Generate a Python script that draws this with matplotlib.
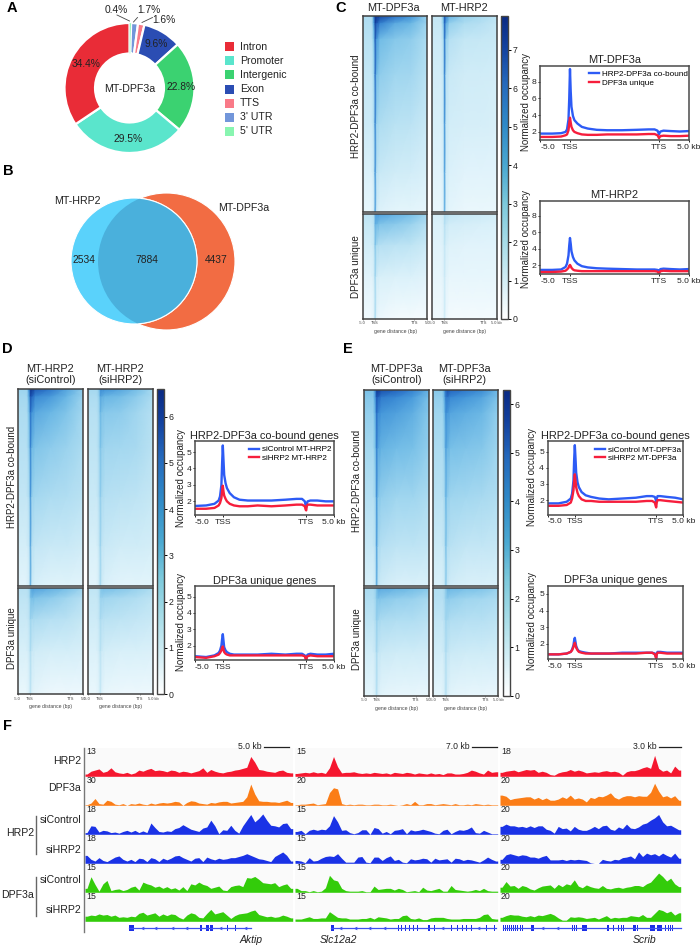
# plot.py - multi panel figure: annotation donut, venn, heatmaps, profiles, tracks

import matplotlib
matplotlib.use("Agg")
import matplotlib.pyplot as plt
import numpy as np
from matplotlib.colors import LinearSegmentedColormap
from matplotlib.patches import Circle, Rectangle

W, H = 700, 947
plt.rcParams["font.family"] = ["Liberation Sans", "DejaVu Sans"]
TEXT = "#222222"

# panel A
PIE_LABELS = ["5' UTR", "3' UTR", "TTS", "Exon", "Intergenic", "Promoter", "Intron"]
PIE_VALUES = [0.4, 1.7, 1.6, 9.6, 22.8, 29.5, 34.4]
PIE_COLORS = ["#88F5B0", "#7296DA", "#F97A88", "#2B4DB3", "#3BD271", "#5AE5CC", "#E92C37"]
LEGEND_ORDER = ["Intron", "Promoter", "Intergenic", "Exon", "TTS", "3' UTR", "5' UTR"]

# panel B
VENN_ONLY_HRP2 = 2534
VENN_BOTH = 7884
VENN_ONLY_DPF3A = 4437

# heatmaps: coarse grid, columns are fractions of the width
HEAT_COLS = [0, 0.14, 0.175, 0.195, 0.22, 0.27, 0.5, 0.75, 1]
HEAT_ROWS_TOP = [0, 0.04, 0.12, 0.3, 0.55, 0.8, 1]
HEAT_ROWS_LOW = [0, 0.1, 0.3, 0.6, 1]

C_DPF3A_TOP = [[2.6, 2.6, 5.5, 7.6, 7.6, 7.0, 6.0, 5.0, 3.2],
               [2.5, 2.5, 4.6, 7.0, 6.4, 5.4, 4.4, 4.0, 3.0],
               [2.3, 2.3, 3.6, 6.4, 4.8, 3.9, 3.5, 3.3, 2.6],
               [2.0, 2.0, 3.0, 6.0, 3.8, 3.3, 3.0, 2.9, 2.3],
               [1.7, 1.7, 2.5, 5.4, 3.0, 2.6, 2.3, 2.2, 1.8],
               [1.2, 1.2, 1.9, 5.0, 2.2, 1.8, 1.6, 1.5, 1.3],
               [0.8, 0.8, 1.4, 4.6, 1.5, 1.1, 0.9, 0.9, 0.8]]
C_HRP2_TOP = [[2.0, 2.0, 4.0, 6.5, 5.5, 4.2, 3.2, 2.8, 2.2],
              [1.9, 1.9, 3.4, 6.2, 4.4, 3.2, 2.6, 2.4, 2.0],
              [1.7, 1.7, 2.6, 5.8, 3.2, 2.4, 2.0, 1.9, 1.8],
              [1.5, 1.5, 2.1, 5.4, 2.3, 1.8, 1.6, 1.6, 1.5],
              [1.3, 1.3, 1.8, 5.0, 1.9, 1.5, 1.4, 1.4, 1.3],
              [1.0, 1.0, 1.5, 4.6, 1.5, 1.2, 1.0, 1.0, 1.0],
              [0.7, 0.7, 1.2, 4.2, 1.2, 0.9, 0.7, 0.7, 0.7]]
C_DPF3A_LOW = [[2.2, 2.2, 2.6, 4.6, 4.8, 4.6, 4.2, 3.8, 3.0],
               [1.9, 1.9, 2.3, 4.2, 4.0, 3.6, 3.4, 3.1, 2.4],
               [1.5, 1.5, 1.9, 3.6, 2.6, 2.4, 2.2, 2.1, 1.7],
               [1.0, 1.0, 1.4, 3.0, 1.5, 1.3, 1.2, 1.2, 1.0],
               [0.5, 0.5, 0.9, 2.6, 0.8, 0.6, 0.4, 0.4, 0.4]]
C_HRP2_LOW = [[1.4, 1.4, 1.6, 2.6, 2.4, 2.1, 1.8, 1.7, 1.5],
              [1.2, 1.2, 1.4, 2.4, 1.8, 1.5, 1.4, 1.3, 1.2],
              [1.0, 1.0, 1.2, 2.0, 1.3, 1.1, 1.0, 1.0, 1.0],
              [0.8, 0.8, 1.0, 1.7, 1.0, 0.8, 0.8, 0.8, 0.8],
              [0.5, 0.5, 0.7, 1.6, 0.6, 0.4, 0.4, 0.4, 0.4]]

D_CTRL_TOP = [[2.6, 2.6, 4.4, 6.2, 6.2, 5.4, 4.8, 3.8, 2.8],
              [2.4, 2.4, 3.8, 5.6, 5.2, 4.4, 4.0, 3.4, 2.6],
              [2.2, 2.2, 3.2, 5.0, 4.2, 3.7, 3.4, 3.0, 2.4],
              [2.0, 2.0, 2.8, 4.6, 3.3, 3.0, 2.8, 2.6, 2.2],
              [1.7, 1.7, 2.2, 4.2, 2.6, 2.4, 2.2, 2.1, 1.9],
              [1.2, 1.2, 1.7, 3.8, 1.9, 1.7, 1.5, 1.5, 1.3],
              [0.8, 0.8, 1.3, 3.6, 1.4, 1.1, 0.9, 0.9, 0.8]]
D_SI_TOP = [[2.4, 2.4, 3.0, 4.4, 4.4, 4.2, 3.8, 3.2, 2.4],
            [2.2, 2.2, 2.7, 3.8, 3.6, 3.4, 3.2, 2.8, 2.2],
            [2.0, 2.0, 2.5, 3.4, 3.0, 2.9, 2.8, 2.5, 2.0],
            [1.8, 1.8, 2.3, 3.1, 2.7, 2.5, 2.4, 2.3, 1.9],
            [1.5, 1.5, 2.0, 2.8, 2.2, 2.0, 1.9, 1.8, 1.6],
            [1.1, 1.1, 1.6, 2.6, 1.7, 1.5, 1.3, 1.3, 1.2],
            [0.8, 0.8, 1.3, 2.4, 1.3, 1.0, 0.8, 0.8, 0.8]]
D_CTRL_LOW = [[2.0, 2.0, 2.4, 3.4, 4.0, 3.9, 3.6, 3.2, 2.6],
              [1.8, 1.8, 2.1, 3.0, 3.2, 3.0, 2.8, 2.5, 2.0],
              [1.5, 1.5, 1.8, 2.6, 2.3, 2.2, 2.0, 1.9, 1.6],
              [1.1, 1.1, 1.4, 2.2, 1.5, 1.3, 1.2, 1.2, 1.1],
              [0.6, 0.6, 1.0, 1.8, 0.9, 0.7, 0.5, 0.5, 0.5]]
D_SI_LOW = [[1.8, 1.8, 2.1, 2.9, 3.2, 3.2, 3.0, 2.7, 2.2],
            [1.6, 1.6, 1.9, 2.6, 2.6, 2.5, 2.3, 2.1, 1.8],
            [1.4, 1.4, 1.7, 2.3, 2.0, 1.9, 1.8, 1.7, 1.5],
            [1.0, 1.0, 1.3, 1.9, 1.4, 1.2, 1.1, 1.1, 1.0],
            [0.6, 0.6, 0.9, 1.6, 0.8, 0.6, 0.5, 0.5, 0.5]]

E_CTRL_TOP = [[3.0, 3.0, 4.4, 5.8, 6.0, 5.4, 5.0, 4.4, 3.4],
              [2.8, 2.8, 3.9, 5.2, 5.0, 4.5, 4.2, 3.8, 3.0],
              [2.6, 2.6, 3.4, 4.8, 4.2, 3.9, 3.7, 3.4, 2.8],
              [2.3, 2.3, 3.0, 4.4, 3.6, 3.3, 3.1, 3.0, 2.6],
              [1.9, 1.9, 2.4, 4.0, 2.8, 2.6, 2.4, 2.4, 2.1],
              [1.5, 1.5, 1.9, 3.7, 2.2, 1.9, 1.7, 1.7, 1.6],
              [1.0, 1.0, 1.5, 3.4, 1.6, 1.3, 1.0, 1.0, 1.0]]
E_SI_TOP = [[2.8, 2.8, 3.9, 5.0, 5.4, 5.0, 4.6, 4.2, 3.2],
            [2.6, 2.6, 3.5, 4.5, 4.6, 4.2, 3.9, 3.6, 2.9],
            [2.4, 2.4, 3.1, 4.1, 3.9, 3.6, 3.4, 3.2, 2.6],
            [2.1, 2.1, 2.7, 3.7, 3.3, 3.0, 2.9, 2.8, 2.4],
            [1.8, 1.8, 2.2, 3.2, 2.6, 2.4, 2.3, 2.2, 2.0],
            [1.4, 1.4, 1.8, 2.9, 2.0, 1.8, 1.6, 1.6, 1.5],
            [1.0, 1.0, 1.4, 2.6, 1.5, 1.2, 1.0, 1.0, 1.0]]
E_CTRL_LOW = [[2.2, 2.2, 2.5, 3.0, 3.6, 3.5, 3.3, 3.1, 2.8],
              [2.0, 2.0, 2.3, 2.8, 2.9, 2.8, 2.6, 2.5, 2.2],
              [1.7, 1.7, 2.0, 2.6, 2.3, 2.1, 2.0, 2.0, 1.8],
              [1.2, 1.2, 1.5, 2.2, 1.6, 1.4, 1.3, 1.3, 1.2],
              [0.7, 0.7, 1.1, 1.9, 1.0, 0.7, 0.6, 0.6, 0.6]]
E_SI_LOW = [[2.0, 2.0, 2.3, 2.8, 3.3, 3.2, 3.0, 2.9, 2.5],
            [1.9, 1.9, 2.2, 2.6, 2.7, 2.6, 2.4, 2.3, 2.1],
            [1.6, 1.6, 1.9, 2.4, 2.2, 2.0, 1.9, 1.9, 1.7],
            [1.2, 1.2, 1.5, 2.0, 1.6, 1.4, 1.3, 1.3, 1.2],
            [0.7, 0.7, 1.1, 1.8, 1.0, 0.7, 0.6, 0.6, 0.6]]

# profile curves, x is percent of the axis (TSS at 20, TTS at 80)
PROF_X = [0, 8, 14, 17, 18, 19, 19.5, 20, 20.5, 21, 22, 23, 25, 28, 32, 38, 45, 55, 65, 73, 77,
          79, 79.6, 80, 80.4, 81, 83, 88, 94, 100]
C1_BLUE = [1.8, 1.8, 1.85, 2.0, 2.3, 3.5, 6.0, 9.5, 6.8, 5.0, 3.9, 3.4, 3.0, 2.6, 2.4, 2.25, 2.2, 2.2, 2.25, 2.3,
           2.3, 2.15, 1.9, 1.7, 1.9, 2.05, 2.15, 2.1, 2.05, 2.1]
C1_RED = [1.4, 1.4, 1.45, 1.6, 1.7, 2.2, 3.0, 3.7, 3.1, 2.6, 2.2, 2.0, 1.85, 1.7, 1.65, 1.65, 1.7, 1.7, 1.7, 1.75,
          1.75, 1.6, 1.4, 1.25, 1.4, 1.5, 1.55, 1.5, 1.5, 1.55]
C2_BLUE = [1.45, 1.45, 1.5, 1.8, 2.2, 3.2, 4.4, 5.3, 4.6, 3.7, 3.0, 2.6, 2.2, 1.9, 1.75, 1.65, 1.6, 1.55, 1.5, 1.5,
           1.5, 1.45, 1.3, 1.15, 1.45, 1.55, 1.6, 1.55, 1.5, 1.55]
C2_RED = [1.2, 1.2, 1.25, 1.35, 1.5, 1.7, 1.95, 2.05, 1.9, 1.7, 1.5, 1.4, 1.35, 1.3, 1.3, 1.3, 1.3, 1.3, 1.3, 1.3,
          1.3, 1.25, 1.1, 1.0, 1.2, 1.3, 1.35, 1.3, 1.3, 1.3]
D1_BLUE = [1.72, 1.75, 1.85, 2.05, 2.3, 3.0, 4.3, 5.4, 4.5, 3.6, 3.1, 2.8, 2.5, 2.25, 2.1, 2.05, 2.05, 2.05, 2.1,
           2.15, 2.15, 2.0, 1.75, 1.65, 1.85, 2.0, 2.05, 2.05, 2.0, 2.0]
D1_RED = [1.55, 1.55, 1.6, 1.75, 1.9, 2.2, 2.6, 2.95, 2.6, 2.35, 2.15, 2.0, 1.85, 1.75, 1.7, 1.7, 1.75, 1.7, 1.75,
          1.8, 1.8, 1.7, 1.5, 1.45, 1.7, 1.8, 1.8, 1.75, 1.75, 1.75]
D2_BLUE = [1.35, 1.3, 1.4, 1.55, 1.7, 2.0, 2.4, 2.7, 2.3, 1.9, 1.7, 1.6, 1.5, 1.45, 1.45, 1.45, 1.45, 1.5, 1.45, 1.5,
           1.5, 1.4, 1.25, 1.15, 1.35, 1.45, 1.5, 1.45, 1.45, 1.5]
D2_RED = [1.3, 1.25, 1.35, 1.45, 1.55, 1.7, 1.85, 1.95, 1.75, 1.6, 1.5, 1.45, 1.4, 1.4, 1.4, 1.4, 1.4, 1.4, 1.4, 1.4,
          1.4, 1.35, 1.2, 1.1, 1.3, 1.35, 1.4, 1.35, 1.35, 1.35]
E1_BLUE = [1.8, 1.8, 1.9, 2.1, 2.4, 3.2, 4.5, 5.4, 4.6, 3.7, 3.1, 2.8, 2.5, 2.3, 2.2, 2.1, 2.05, 2.1, 2.15, 2.25,
           2.25, 2.2, 2.05, 1.9, 2.1, 2.25, 2.25, 2.2, 2.15, 2.05]
E1_RED = [1.65, 1.65, 1.7, 1.85, 2.1, 2.6, 3.2, 3.6, 3.2, 2.8, 2.45, 2.25, 2.05, 1.95, 1.95, 1.9, 1.9, 1.9, 1.9,
          1.95, 1.95, 1.85, 1.65, 1.55, 1.85, 2.0, 2.0, 1.95, 1.9, 1.85]
E2_BLUE = [1.35, 1.35, 1.4, 1.5, 1.65, 1.9, 2.2, 2.35, 2.1, 1.85, 1.65, 1.55, 1.5, 1.45, 1.4, 1.4, 1.4, 1.45, 1.45,
           1.45, 1.45, 1.4, 1.25, 1.15, 1.4, 1.5, 1.5, 1.45, 1.45, 1.45]
E2_RED = [1.35, 1.35, 1.4, 1.5, 1.6, 1.8, 1.95, 2.05, 1.9, 1.75, 1.6, 1.5, 1.45, 1.4, 1.4, 1.4, 1.4, 1.4, 1.4, 1.45,
          1.45, 1.35, 1.2, 1.1, 1.35, 1.45, 1.45, 1.4, 1.4, 1.4]

# panel F signal, height in percent of one track
AKTIP_TRACKS = [
    [8, 18, 22, 26, 14, 18, 30, 16, 12, 10, 14, 8, 12, 22, 18, 24, 28, 20, 22, 20, 16, 22, 20, 14, 18, 16, 12, 16,
     20, 30, 14, 24, 18, 14, 12, 16, 18, 22, 24, 28, 32, 70, 50, 24, 22, 18, 16, 14, 20, 22, 14, 12],
    [2, 8, 24, 6, 4, 18, 14, 4, 2, 6, 0, 6, 4, 8, 4, 2, 8, 4, 8, 10, 8, 10, 14, 12, 0, 10, 16, 14, 8, 6, 4, 10, 8,
     12, 14, 14, 8, 10, 12, 14, 30, 75, 40, 16, 14, 14, 12, 12, 10, 14, 18, 10],
    [6, 30, 28, 8, 14, 12, 6, 8, 4, 10, 14, 8, 14, 6, 12, 6, 40, 24, 10, 8, 12, 10, 20, 24, 34, 26, 18, 14, 10, 22,
     26, 50, 30, 2, 16, 14, 32, 14, 4, 30, 50, 70, 44, 56, 72, 50, 32, 30, 26, 38, 40, 20],
    [28, 14, 8, 20, 10, 6, 14, 22, 26, 14, 8, 14, 6, 18, 16, 6, 20, 16, 6, 18, 12, 18, 26, 28, 20, 14, 8, 18, 20, 6,
     22, 16, 12, 18, 14, 16, 20, 20, 24, 28, 34, 28, 22, 16, 14, 10, 6, 24, 32, 40, 28, 8],
    [14, 55, 28, 4, 30, 42, 6, 10, 12, 6, 10, 18, 22, 8, 36, 30, 26, 18, 22, 14, 20, 12, 16, 8, 20, 6, 30, 26, 36, 28,
     24, 14, 18, 22, 8, 6, 20, 24, 26, 20, 52, 50, 56, 46, 34, 32, 30, 34, 20, 26, 30, 14],
    [18, 22, 20, 26, 22, 24, 18, 22, 14, 16, 14, 18, 16, 28, 32, 22, 26, 30, 18, 26, 20, 26, 24, 14, 8, 22, 30, 26,
     14, 12, 28, 42, 26, 30, 34, 22, 10, 20, 26, 28, 30, 36, 40, 24, 20, 16, 18, 14, 16, 22, 18, 12],
]
SLC_TRACKS = [
    [10, 12, 14, 12, 16, 12, 14, 10, 30, 70, 34, 12, 14, 14, 16, 12, 10, 12, 10, 14, 12, 10, 12, 8, 14, 12, 10, 14,
     12, 8, 12, 10, 8, 12, 8, 10, 6, 12, 12, 8, 8, 10, 14, 22, 18, 12, 8, 22, 14, 16],
    [2, 4, 4, 6, 8, 2, 4, 6, 45, 62, 58, 6, 2, 4, 2, 4, 4, 2, 2, 4, 4, 2, 2, 4, 2, 0, 2, 6, 2, 14, 2, 2, 6, 6, 2, 4,
     6, 4, 2, 6, 2, 2, 4, 2, 6, 4, 2, 4, 2, 2],
    [10, 14, 2, 14, 18, 14, 18, 16, 30, 66, 44, 14, 16, 6, 2, 6, 16, 16, 0, 24, 20, 4, 10, 2, 14, 16, 20, 2, 16, 12,
     14, 18, 14, 10, 4, 2, 14, 18, 2, 10, 16, 14, 18, 26, 6, 4, 14, 8, 2, 2],
    [10, 8, 2, 20, 8, 10, 18, 24, 26, 24, 34, 18, 4, 4, 4, 22, 24, 4, 2, 22, 22, 10, 20, 26, 10, 14, 4, 2, 16, 12,
     14, 18, 16, 4, 18, 12, 14, 16, 4, 18, 16, 10, 14, 12, 8, 4, 12, 22, 14, 8],
    [14, 6, 6, 2, 6, 2, 4, 16, 60, 44, 40, 14, 6, 4, 4, 4, 6, 2, 2, 22, 10, 12, 14, 14, 8, 14, 10, 2, 4, 6, 2, 18, 8,
     6, 10, 14, 4, 4, 24, 10, 8, 6, 4, 6, 10, 6, 14, 6, 4, 4],
    [8, 8, 12, 16, 10, 10, 12, 12, 34, 24, 14, 12, 12, 8, 8, 8, 10, 10, 14, 8, 16, 14, 12, 8, 10, 10, 20, 22, 10, 8,
     12, 6, 6, 12, 14, 14, 14, 10, 8, 8, 8, 10, 10, 10, 10, 14, 24, 26, 10, 8],
]
SCRIB_TRACKS = [
    [14, 18, 20, 22, 16, 20, 24, 22, 24, 14, 18, 14, 6, 4, 12, 16, 18, 24, 18, 22, 18, 12, 14, 16, 14, 18, 20, 16, 18,
     14, 4, 16, 20, 20, 24, 30, 34, 28, 74, 28, 18, 22, 12, 36, 22],
    [36, 32, 20, 24, 26, 28, 30, 30, 22, 28, 20, 26, 18, 18, 22, 30, 24, 36, 22, 26, 22, 12, 28, 24, 32, 30, 36, 44,
     28, 22, 30, 34, 34, 30, 34, 32, 32, 46, 78, 50, 30, 34, 26, 34, 18],
    [28, 36, 30, 30, 26, 28, 24, 30, 24, 30, 30, 18, 14, 4, 28, 20, 22, 12, 28, 18, 14, 14, 20, 28, 20, 30, 32, 18,
     14, 26, 20, 36, 22, 20, 26, 36, 40, 50, 58, 70, 44, 30, 32, 24, 16],
    [14, 30, 34, 30, 26, 30, 28, 22, 22, 18, 24, 28, 12, 12, 12, 14, 10, 14, 12, 14, 12, 10, 2, 0, 0, 14, 10, 8, 14,
     12, 20, 22, 26, 16, 40, 24, 36, 30, 34, 26, 36, 28, 22, 36, 18],
    [18, 38, 22, 24, 14, 24, 20, 12, 8, 16, 22, 24, 26, 14, 28, 20, 30, 26, 44, 22, 16, 26, 20, 16, 14, 24, 14, 12,
     16, 18, 14, 18, 20, 24, 24, 20, 30, 36, 52, 68, 56, 40, 50, 30, 20],
    [14, 20, 24, 22, 22, 18, 16, 20, 16, 22, 20, 24, 28, 22, 12, 4, 4, 16, 14, 16, 14, 10, 12, 14, 8, 14, 20, 10, 14,
     12, 14, 14, 20, 18, 16, 24, 14, 14, 28, 42, 38, 30, 36, 22, 30],
]
TRACK_COLORS = ["#F5172F", "#FB7D17", "#1A32E6", "#1A32E6", "#33CC0A", "#33CC0A"]
AKTIP_MAX = ["13", "30", "18", "18", "15", "15"]
SLC_MAX = ["15", "20", "15", "15", "15", "15"]
SCRIB_MAX = ["18", "20", "20", "20", "20", "20"]

# gene models in figure pixels: (line start, line end), exons, arrows
AKTIP_SPAN = (128.5, 250.5)
AKTIP_EXONS = [(128.5, 133.5), (200, 201.5), (206, 208.5), (210, 212.5), (226.5, 228), (234.5, 235.5)]
AKTIP_ARROWS = [141.5, 155, 171.5, 186, 220, 245]
SLC_SPAN = (330.5, 496)
SLC_EXONS = [(330.5, 334), (397.5, 398.5), (401, 402), (404.5, 405.5), (408.5, 409.5), (412.5, 413.5),
             (417, 418), (427.5, 429.5), (434, 435), (451, 452), (457, 458), (461.5, 462.5), (466, 467),
             (471, 472), (486, 487), (493.5, 494.5)]
SLC_ARROWS = [340, 355, 369, 384, 442, 478]
SCRIB_SPAN = (502.5, 681)
SCRIB_EXONS = [(502.5, 504), (504.8, 506), (506.8, 508), (508.8, 510), (511, 512), (513, 514), (515, 516), (517, 518),
               (519.5, 520.5), (522, 523), (530.5, 534), (571.5, 573), (573.5, 575), (575.5, 576.5), (581.5, 587),
               (592.5, 593.3), (596.5, 597.3), (600.5, 601.3), (606.5, 608.5), (612.5, 613.5), (618, 619),
               (620.5, 621.5), (623, 624), (633, 636), (636.5, 638), (649.5, 654.5), (656.5, 662), (665, 666),
               (667.5, 668.5), (669.5, 670.5), (672, 673)]
SCRIB_ARROWS = [541.5, 556.5]


def ax_px(fig, x0, y0, x1, y1):
    return fig.add_axes([x0 / W, 1 - y1 / H, (x1 - x0) / W, (y1 - y0) / H])


def put(ov, x, y, s, size=7.5, ha="center", va="center", **kw):
    kw.setdefault("color", TEXT)
    ov.text(x, y, s, fontsize=size, ha=ha, va=va, **kw)


def draw_heat(fig, box, grid, rows, vmax, cmap, ticks=None):
    ax = ax_px(fig, *box)
    ax.pcolormesh(HEAT_COLS, rows, np.array(grid), cmap=cmap, vmin=0, vmax=vmax, shading="gouraud")
    ax.set_xlim(0, 1)
    ax.set_ylim(1, 0)
    ax.set_yticks([])
    for s in ax.spines.values():
        s.set_color("#404040")
        s.set_linewidth(1.1)
    if ticks:
        ax.set_xticks([0, 0.19, 0.8, 1], ticks)
        ax.tick_params(axis="x", labelsize=2.9, length=1, width=0.4, pad=0.8, colors="#444444")
        ax.set_xlabel("gene distance (bp)", fontsize=3.7, color="#444444", labelpad=2.5)
    else:
        ax.set_xticks([])


def heat_column(fig, x0, x1, y0, y1, y2, y3, top, low, vmax, cmap, last):
    labels = ["-5.0", "TSS", "TTS", "5.0 kb" if last else "5.0"]
    draw_heat(fig, (x0, y0, x1, y1), top, HEAT_ROWS_TOP, vmax, cmap)
    draw_heat(fig, (x0, y2, x1, y3), low, HEAT_ROWS_LOW, vmax, cmap, labels)


def draw_cbar(fig, box, vmax, cmap, ticks):
    cax = ax_px(fig, *box)
    sm = plt.cm.ScalarMappable(cmap=cmap, norm=plt.Normalize(0, vmax))
    cb = fig.colorbar(sm, cax=cax, ticks=ticks)
    cb.outline.set_edgecolor("#444444")
    cb.outline.set_linewidth(1)
    cb.ax.tick_params(labelsize=6.3, length=2, width=0.7, pad=1.5, labelcolor=TEXT)


def draw_profile(fig, box, ylim, yticks, title, blue, red, names=None, leg=(0.31, 1.0)):
    ax = ax_px(fig, *box)
    ax.plot(PROF_X, blue, color="#2D5BF5", lw=1.7, label=names[0] if names else None)
    ax.plot(PROF_X, red, color="#F61E3C", lw=1.7, label=names[1] if names else None)
    ax.set_xlim(0, 100)
    ax.set_ylim(*ylim)
    ax.set_yticks(yticks)
    ax.set_xticks([0, 20, 80, 100], ["-5.0", "TSS", "TTS", "5.0 kb"])
    ax.get_xticklabels()[0].set_ha("left")
    ax.tick_params(labelsize=6.1, length=1.5, width=0.6, pad=1.2, labelcolor=TEXT)
    ax.set_title(title, fontsize=7.9, pad=1.8, color=TEXT)
    for s in ax.spines.values():
        s.set_color("#4a4a4a")
        s.set_linewidth(1.1)
    if names:
        ax.legend(loc="upper left", bbox_to_anchor=leg, frameon=False, fontsize=5.9, handlelength=1.2,
                  labelspacing=0.08, borderpad=0.3, borderaxespad=0, handletextpad=0.4)


def draw_tracks(fig, x0, x1, tracks, maxima):
    for i, vals in enumerate(tracks):
        base = 776.3 + 29 * i
        ax = ax_px(fig, x0, base - 28.3, x1, base)
        ax.set_facecolor("#FAFAFA")
        # bin centres, signal held flat out to both edges of the locus
        xs = (np.arange(len(vals)) + 0.5) / len(vals)
        ax.fill_between(np.r_[0, xs, 1], np.r_[vals[0], vals, vals[-1]], 0, color=TRACK_COLORS[i], lw=0)
        ax.set_xlim(0, 1)
        ax.set_ylim(0, 100)
        ax.set_xticks([])
        ax.set_yticks([])
        for s in ax.spines.values():
            s.set_visible(False)
        ax.text(0.006, 0.87, maxima[i], transform=ax.transAxes, fontsize=6.3, va="center", color=TEXT)


def draw_gene(ov, span, exons, arrows, y=928.0):
    ov.plot(span, [y, y], color="#3C50F0", lw=0.9)
    for a, b in exons:
        ov.add_patch(Rectangle((a, y - 3.3), b - a, 6.6, color="#1A2EE6", lw=0))
    ov.plot(arrows, [y] * len(arrows), ls="none", marker="<", ms=2.6, color="#3C50F0", mew=0)


def main():
    fig = plt.figure(figsize=(W / 100, H / 100), dpi=100)

    # the heatmaps read a little bluer than the bar beside them, so two ramps
    heat_cmap = LinearSegmentedColormap.from_list(
        "occ", [(0, "#FFFFFF"), (0.12, "#E2F4FB"), (0.25, "#C4E7F5"), (0.38, "#A0D6EF"), (0.5, "#6FBBE6"),
                (0.64, "#3F92D8"), (0.78, "#2468C4"), (0.9, "#12409E"), (1, "#0A2A84")])
    bar_cmap = LinearSegmentedColormap.from_list(
        "bar", [(0, "#FFFFFF"), (0.12, "#D5EFF6"), (0.25, "#A8DDE8"), (0.38, "#7CC9DC"), (0.5, "#4BA9D2"),
                (0.64, "#2F8AC8"), (0.78, "#2468BC"), (0.9, "#12409E"), (1, "#0A2A84")])

    # A
    ax = ax_px(fig, 64.5, 23, 194.5, 153)
    wedges, _ = ax.pie(PIE_VALUES, colors=PIE_COLORS, startangle=90, counterclock=False, radius=1,
                       wedgeprops=dict(width=0.47, edgecolor="white", linewidth=1.6))
    # the thinnest slice would vanish under the white edge
    wedges[0].set_linewidth(0.3)
    wedges[0].set_zorder(5)
    ax.set_xlim(-1, 1)
    ax.set_ylim(-1, 1)

    # overlay in figure pixels for labels
    ov = fig.add_axes([0, 0, 1, 1], zorder=10)
    ov.set_xlim(0, W)
    ov.set_ylim(H, 0)
    ov.axis("off")

    put(ov, 129.3, 89, "MT-DPF3a", 7.7)
    put(ov, 86, 64.3, "34.4%", 7.4)
    put(ov, 181, 87.3, "22.8%", 7.4)
    put(ov, 128, 139, "29.5%", 7.4)
    put(ov, 156, 44.3, "9.6%", 7.4)
    put(ov, 116, 10.3, "0.4%", 7.4)
    put(ov, 149, 10.3, "1.7%", 7.4)
    put(ov, 163.7, 19.7, "1.6%", 7.4)
    ov.plot([117, 129.5], [15, 21], color="#444444", lw=0.6)
    ov.plot([137.5, 133.5], [17.5, 22], color="#444444", lw=0.6)
    ov.plot([152.5, 142], [17.5, 22.5], color="#444444", lw=0.6)
    for i, name in enumerate(LEGEND_ORDER):
        y = 46.7 + i * 14.1
        color = PIE_COLORS[PIE_LABELS.index(name)]
        ov.add_patch(Rectangle((224.5, y - 4.5), 9, 9, color=color, lw=0))
        put(ov, 240, y, name, 7.6, ha="left")

    # B - radius follows the size of each set
    k = 0.617
    r_hrp2 = k * np.sqrt(VENN_ONLY_HRP2 + VENN_BOTH)
    r_dpf3a = k * np.sqrt(VENN_ONLY_DPF3A + VENN_BOTH)
    left = Circle((134, 261), r_hrp2, fc="#5AD2FB", ec="white", lw=0.8)
    right = Circle((166.5, 261.5), r_dpf3a, fc="#F26C43", ec="white", lw=0.8)
    ov.add_patch(right)
    ov.add_patch(left)
    both = Circle((134, 261), r_hrp2, fc="#4AB0DC", ec="white", lw=0.8)
    ov.add_patch(both)
    both.set_clip_path(Circle((166.5, 261.5), r_dpf3a, transform=ov.transData))
    put(ov, 84, 260, str(VENN_ONLY_HRP2), 7.4)
    put(ov, 147, 260, str(VENN_BOTH), 7.4)
    put(ov, 216, 260, str(VENN_ONLY_DPF3A), 7.4)
    put(ov, 77.5, 201, "MT-HRP2", 7.7)
    put(ov, 244, 208, "MT-DPF3a", 7.7)

    # C
    heat_column(fig, 362.7, 427.3, 15.7, 212, 214, 319, C_DPF3A_TOP, C_DPF3A_LOW, 7.89, heat_cmap, False)
    heat_column(fig, 432, 496.7, 15.7, 212, 214, 319, C_HRP2_TOP, C_HRP2_LOW, 7.89, heat_cmap, True)
    draw_cbar(fig, (501, 15.7, 508, 319), 7.89, bar_cmap, range(8))
    put(ov, 393.3, 8.3, "MT-DPF3a", 7.8)
    put(ov, 463.7, 8.3, "MT-HRP2", 7.8)
    put(ov, 355.7, 106, "HRP2-DPF3a co-bound", 7.1, rotation=90)
    put(ov, 355.7, 266.7, "DPF3a unique", 7.1, rotation=90)
    draw_profile(fig, (540.3, 65.7, 688.7, 140.3), (1, 9.9), [2, 4, 6, 8], "MT-DPF3a", C1_BLUE, C1_RED,
                 ("HRP2-DPF3a co-bound", "DPF3a unique"), (0.31, 0.97))
    draw_profile(fig, (540.3, 200.7, 688.7, 274.3), (0.92, 9.8), [2, 4, 6, 8], "MT-HRP2", C2_BLUE, C2_RED)
    put(ov, 526, 101.7, "Normalized occupancy", 7, rotation=90)
    put(ov, 526, 238.7, "Normalized occupancy", 7, rotation=90)

    # D
    heat_column(fig, 17.7, 83.3, 389, 585.7, 587.5, 694, D_CTRL_TOP, D_CTRL_LOW, 6.6, heat_cmap, False)
    heat_column(fig, 87.7, 153, 389, 585.7, 587.5, 694, D_SI_TOP, D_SI_LOW, 6.6, heat_cmap, True)
    draw_cbar(fig, (156.7, 389, 163.7, 694), 6.6, bar_cmap, range(7))
    put(ov, 50.3, 374.5, "MT-HRP2\n(siControl)", 7.8)
    put(ov, 120, 374.5, "MT-HRP2\n(siHRP2)", 7.8)
    put(ov, 12, 477, "HRP2-DPF3a co-bound", 7, rotation=90)
    put(ov, 12, 637.7, "DPF3a unique", 7, rotation=90)
    draw_profile(fig, (195, 441, 334, 515), (1.17, 5.67), [2, 3, 4, 5], "HRP2-DPF3a co-bound genes", D1_BLUE, D1_RED,
                 ("siControl MT-HRP2", "siHRP2 MT-HRP2"), (0.37, 0.97))
    draw_profile(fig, (195, 586, 334, 660.3), (1.1, 5.65), [2, 3, 4, 5], "DPF3a unique genes", D2_BLUE, D2_RED)
    put(ov, 180.7, 477.8, "Normalized occupancy", 7, rotation=90)
    put(ov, 180.7, 622, "Normalized occupancy", 7, rotation=90)

    # E
    heat_column(fig, 364, 429, 389.7, 586, 588.3, 695.7, E_CTRL_TOP, E_CTRL_LOW, 6.3, heat_cmap, False)
    heat_column(fig, 433.3, 498.3, 389.7, 586, 588.3, 695.7, E_SI_TOP, E_SI_LOW, 6.3, heat_cmap, True)
    draw_cbar(fig, (502.7, 389.7, 509.7, 695.7), 6.3, bar_cmap, range(7))
    put(ov, 396.7, 374.5, "MT-DPF3a\n(siControl)", 7.8)
    put(ov, 464, 374.5, "MT-DPF3a\n(siHRP2)", 7.8)
    put(ov, 357.3, 481, "HRP2-DPF3a co-bound", 7, rotation=90)
    put(ov, 357.3, 639, "DPF3a unique", 7, rotation=90)
    draw_profile(fig, (547.7, 441.3, 683.3, 514.7), (1.1, 5.64), [2, 3, 4, 5], "HRP2-DPF3a co-bound genes", E1_BLUE,
                 E1_RED, ("siControl MT-DPF3a", "siHRP2 MT-DPF3a"), (0.33, 0.97))
    draw_profile(fig, (547.7, 585.7, 683.3, 659), (1.07, 5.5), [2, 3, 4, 5], "DPF3a unique genes", E2_BLUE, E2_RED)
    put(ov, 531.7, 477, "Normalized occupancy", 7, rotation=90)
    put(ov, 531.7, 621.3, "Normalized occupancy", 7, rotation=90)

    # F
    draw_tracks(fig, 85, 292.7, AKTIP_TRACKS, AKTIP_MAX)
    draw_tracks(fig, 295, 497.7, SLC_TRACKS, SLC_MAX)
    draw_tracks(fig, 500, 680.7, SCRIB_TRACKS, SCRIB_MAX)
    ov.plot([84, 84], [748, 931.5], color="#777777", lw=1)
    draw_gene(ov, AKTIP_SPAN, AKTIP_EXONS, AKTIP_ARROWS)
    draw_gene(ov, SLC_SPAN, SLC_EXONS, SLC_ARROWS)
    draw_gene(ov, SCRIB_SPAN, SCRIB_EXONS, SCRIB_ARROWS)
    put(ov, 251, 939.5, "Aktip", 7.5, style="italic")
    put(ov, 338, 939.5, "Slc12a2", 7.5, style="italic")
    put(ov, 645, 939.5, "Scrib", 7.5, style="italic")
    for bar, txt in [((264.3, 288.7), "5.0 kb"), ((472.3, 496.7), "7.0 kb"), ((659.3, 680.7), "3.0 kb")]:
        ov.plot(bar, [747.3, 747.3], color="#222222", lw=0.9)
        put(ov, bar[0] - 2.5, 746.7, txt, 6.2, ha="right")
    for y, name in [(761, "HRP2"), (787.7, "DPF3a"), (820, "siControl"), (850, "siHRP2"),
                    (880, "siControl"), (910, "siHRP2")]:
        put(ov, 81.3, y, name, 7.6, ha="right")
    put(ov, 34, 833.3, "HRP2", 7.6, ha="right")
    put(ov, 34, 895, "DPF3a", 7.6, ha="right")
    ov.plot([35.5, 35.5], [816, 854.3], color="#666666", lw=1)
    ov.plot([35.5, 35.5], [876.7, 916], color="#666666", lw=1)

    # panel letters
    for x, y, s in [(11.5, 8, "A"), (8, 171, "B"), (341, 8, "C"), (7.5, 349, "D"), (348, 349, "E"), (7, 726, "F")]:
        put(ov, x, y, s, 10.5, fontweight="bold", color="black")

    fig.savefig("out.png", dpi=100)


main()
